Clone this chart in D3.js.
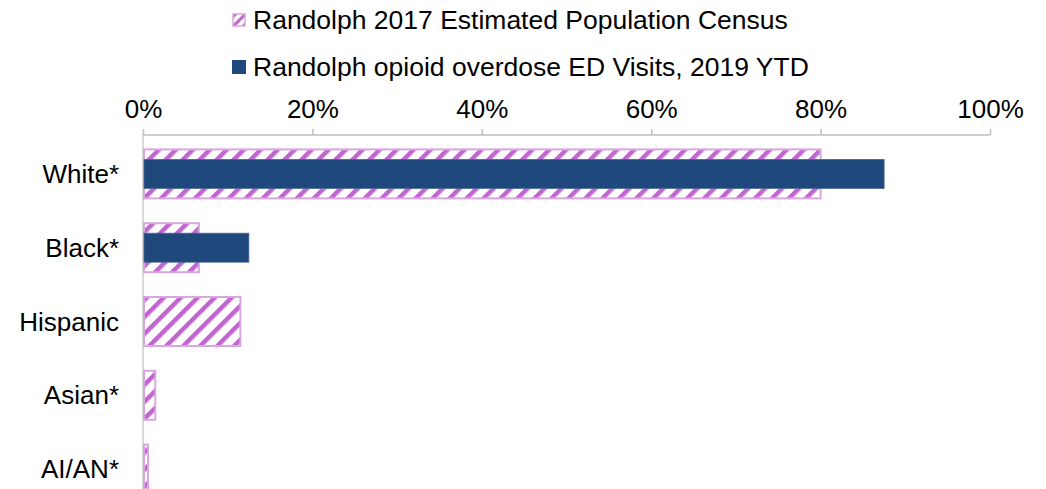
<!DOCTYPE html>
<html><head><meta charset="utf-8">
<script src="https://cdn.jsdelivr.net/npm/d3@7"></script>
<style>body{margin:0;background:#fff}svg{display:block;font-family:"Liberation Sans",Arial,sans-serif}</style>
</head><body><svg id="c" width="1046" height="489"></svg>
<script>
const categories = ["White*", "Black*", "Hispanic", "Asian*", "AI/AN*"];
const censusValues = [0.80, 0.066, 0.115, 0.0145, 0.006];
const edValues = [0.875, 0.125, 0, 0, 0];
const seriesNames = ["Randolph 2017 Estimated Population Census", "Randolph opioid overdose ED Visits, 2019 YTD"];
const tickValues = [0, 0.2, 0.4, 0.6, 0.8, 1.0];

const svg = d3.select("#c");
const x = d3.scaleLinear().domain([0, 1]).range([143, 990]);
const y = d3.scaleBand().domain(categories).range([137, 506]);
const FS = 26;

const defs = svg.append("defs");
const pat = defs.append("pattern").attr("id", "hatch").attr("patternUnits", "userSpaceOnUse")
  .attr("width", 12).attr("height", 12).attr("patternTransform", "rotate(45)");
pat.append("rect").attr("width", 12).attr("height", 12).attr("fill", "#fff");
pat.append("rect").attr("x", 0).attr("width", 4.5).attr("height", 12).attr("fill", "#c266cf");
const pat2 = defs.append("pattern").attr("id", "hatchS").attr("patternUnits", "userSpaceOnUse")
  .attr("width", 7).attr("height", 7).attr("patternTransform", "rotate(45)");
pat2.append("rect").attr("width", 7).attr("height", 7).attr("fill", "#fff");
pat2.append("rect").attr("width", 3).attr("height", 7).attr("fill", "#c266cf");

// y axis line
svg.append("line").attr("x1", x(0)).attr("x2", x(0)).attr("y1", 134).attr("y2", 489)
  .attr("stroke", "#d9d9d9").attr("stroke-width", 2);

// x axis on top
const xAxis = d3.axisTop(x).tickValues(tickValues).tickFormat(d3.format(".0%")).tickSize(6).tickPadding(11);
const gx = svg.append("g").attr("transform", "translate(0,135)").call(xAxis);
gx.select(".domain").attr("stroke", "#bfbfbf").attr("stroke-width", 1.5).attr("d", `M${x(0)},0H${x(1)}`);
gx.selectAll(".tick line").attr("stroke", "#bfbfbf").attr("stroke-width", 1.5);
gx.selectAll(".tick text").attr("font-size", FS).attr("fill", "#000").attr("font-family", '"Liberation Sans",Arial,sans-serif');

// census bars
const cH = 49, eH = 29;
svg.append("g").selectAll("rect").data(categories).join("rect")
  .attr("x", x(0) + 1)
  .attr("y", d => y(d) + y.bandwidth() / 2 - cH / 2)
  .attr("width", (d, i) => Math.max(0, x(censusValues[i]) - x(0) - 1))
  .attr("height", cH)
  .attr("fill", "url(#hatch)").attr("stroke", "#d9a6e2").attr("stroke-width", 2);

// ED bars
svg.append("g").selectAll("rect").data(categories).join("rect")
  .attr("x", x(0) + 1)
  .attr("y", d => y(d) + y.bandwidth() / 2 - eH / 2)
  .attr("width", (d, i) => Math.max(0, x(edValues[i]) - x(0) - 1))
  .attr("height", (d, i) => edValues[i] > 0 ? eH : 0)
  .attr("fill", "#1f497d").attr("stroke", "#4a6a96").attr("stroke-width", 0.8);

// category labels
svg.append("g").selectAll("text").data(categories).join("text")
  .attr("x", 119).attr("y", d => y(d) + y.bandwidth() / 2)
  .attr("dy", "0.35em").attr("text-anchor", "end").attr("font-size", FS).attr("fill", "#000")
  .text(d => d);

// legend
const leg = svg.append("g");
const ly = [20, 67];
leg.append("rect").attr("x", 233).attr("y", ly[0] - 6).attr("width", 12).attr("height", 12)
  .attr("fill", "url(#hatchS)").attr("stroke", "#d9a6e2").attr("stroke-width", 1.5);
leg.append("rect").attr("x", 232).attr("y", ly[1] - 7).attr("width", 14).attr("height", 14)
  .attr("fill", "#1f497d");
leg.selectAll("text").data(seriesNames).join("text")
  .attr("x", 253).attr("y", (d, i) => ly[i]).attr("dy", "0.35em")
  .attr("font-size", 26.5).attr("fill", "#000").text(d => d);
</script></body></html>
